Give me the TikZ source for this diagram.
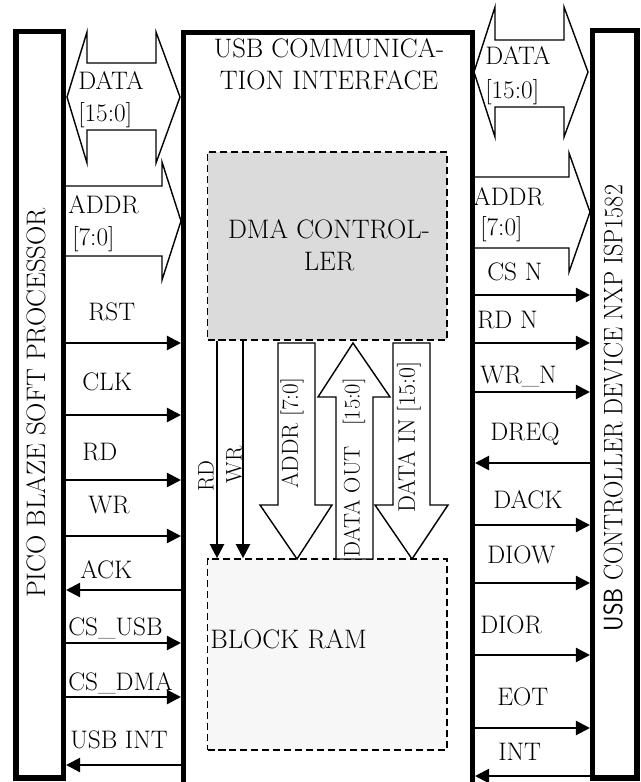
\documentclass[tikz,border=0pt]{standalone}
\usepackage{fontspec}
\usetikzlibrary{calc}
\usetikzlibrary{positioning}
\usetikzlibrary{arrows.meta}
\usetikzlibrary{fit}

\begin{document}
\begin{tikzpicture}[x=0.025cm, y=-0.025cm,
  blk/.style={draw, line width=3.6pt, inner sep=0pt},
  sub/.style={draw, dash pattern=on 5pt off 2.8pt, line width=1.2pt, inner sep=0pt},
  sig/.style={line width=1.6pt, -{Triangle[length=10pt,width=10pt]}},
  bus/.style={draw, fill=white, line width=1pt, line join=miter},
  txt/.style={font=\fontsize{19}{22}\selectfont, inner sep=0pt},
  lbl/.style={txt, font=\fontsize{18}{21}\selectfont, anchor=base west}]
  \useasboundingbox (0,0) rectangle (640,782);
  % the three units
  \node[blk, fit={(16,31.5) (63.5,778)}] (pico) {};
  \node[blk, fit={(183.5,32.5) (472.5,790)}] (usbif) {};
  \node[blk, fit={(592.5,30.5) (637,778)}] (isp) {};
  \node[txt, rotate=90] (picot) at (36,403) {PICO BLAZE SOFT PROCESSOR};
  \node[txt, rotate=90] (ispt) at (613,408)
    {\fontsize{19}{22}\selectfont\scalebox{0.9}[1]{{\sffamily USB} CONTROLLER DEVICE NXP ISP1582}};
  \node[txt, anchor=base] (usbt1) at (329,58) {USB COMMUNICA-};
  \node[txt, anchor=base] (usbt2) at (329,90) {TION INTERFACE};
  % inner blocks
  \node[sub, fill=black!14, fit={(207.5,152) (447,340)}] (dma) {};
  \node[sub, fill=black!3, fit={(207.5,559) (447,750)}] (ram) {};
  \node[txt, anchor=base] (dmat1) at (329,238) {DMA CONTROL-};
  \node[txt, anchor=base] (dmat2) at (329,270) {LER};
  \node[txt, anchor=base west] (ramt) at (210,648) {BLOCK RAM};
  % buses
  \draw[bus] (67,97) -- (87,32) -- (87,63) -- (156,63) -- (156,32) -- (180,97)
    -- (156,163) -- (156,130) -- (87,130) -- (87,163) -- cycle;
  \draw[bus] (66,186) -- (162,186) -- (162,162) -- (181,221) -- (162,280) -- (162,256) -- (66,256);
  \draw[bus] (474,72) -- (495,7) -- (495,40) -- (564,40) -- (564,7) -- (588,72)
    -- (564,137) -- (564,107) -- (495,107) -- (495,137) -- cycle;
  \draw[bus] (475,177) -- (569,177) -- (569,153) -- (590,212) -- (569,272) -- (569,248) -- (475,248);
  \node[lbl] (ld1) at (78,90) {DATA};
  \node[lbl] (ld2) at (78,121) {[15:0]};
  \node[lbl] (la1) at (68,213) {ADDR};
  \node[lbl] (la2) at (72,245) {[7:0]};
  \node[lbl] (rd1) at (485,65) {DATA};
  \node[lbl] (rd2) at (485,98) {[15:0]};
  \node[lbl] (ra1) at (473,205) {ADDR};
  \node[lbl] (ra2) at (480,235) {[7:0]};
  % between dma and ram
  \draw[bus] (278,343) -- (278,505) -- (260,505) -- (297,559) -- (332,505) -- (315,505) -- (315,343) -- cycle;
  \draw[bus] (336,559) -- (336,397) -- (318,397) -- (353,343) -- (390,397) -- (373,397) -- (373,559) -- cycle;
  \draw[bus] (393,343) -- (393,505) -- (375,505) -- (412,559) -- (448,505) -- (430,505) -- (430,343) -- cycle;
  \coordinate (rdx) at (217,0);
  \coordinate (wrx) at (243,0);
  \draw[sig] (rdx |- dma.south) -- (rdx |- ram.north);
  \draw[sig] (wrx |- dma.south) -- (wrx |- ram.north);
  \node[txt, rotate=90, font=\fontsize{16}{19}\selectfont] (rdt) at (206,476) {RD};
  \node[txt, rotate=90, font=\fontsize{16}{19}\selectfont] (wrt) at (234,465) {WR};
  \node[txt, rotate=90, font=\fontsize{16.5}{19}\selectfont] (addrt) at (292,433) {ADDR [7:0]};
  \node[txt, rotate=90, font=\fontsize{16}{19}\selectfont] (doutt) at (354,468) {DATA OUT\ \ \ [15:0]};
  \node[txt, rotate=90, font=\fontsize{17}{19}\selectfont] (dint) at (409,437) {DATA IN [15:0]};
  % processor side signals (1 = to interface)
  \foreach \y/\t/\tx/\ty/\d [count=\i] in {343/RST/88/320/1, 415/CLK/82/390/1, 480/RD/82/460/1,
      536/WR/88/513/1, 590/ACK/80/578/0, 643/CS\_USB/68/635/1, 697/CS\_DMA/68/690/1, 765/USB INT/70/748/0}{
    \coordinate (h) at (0,\y);
    \ifnum\d=1 \draw[sig] (pico.east |- h) -- (usbif.west |- h);
    \else \draw[sig] (usbif.west |- h) -- (pico.east |- h); \fi
    \node[lbl] (ls\i) at (\tx,\ty) {\t};
  }
  % device side signals (1 = to device)
  \foreach \y/\t/\tx/\ty/\d [count=\i] in {295/CS N/487/280/1, 343/RD N/477/328/1, 392/WR\_N/480/383/1,
      463/DREQ/490/440/0, 525/DACK/493/508/1, 583/DIOW/487/563/1, 655/DIOR/480/633/1,
      728/EOT/497/705/1, 776/INT/498/760/0}{
    \coordinate (h) at (0,\y);
    \ifnum\d=1 \draw[sig] (usbif.east |- h) -- (isp.west |- h);
    \else \draw[sig] (isp.west |- h) -- (usbif.east |- h); \fi
    \node[lbl] (rs\i) at (\tx,\ty) {\t};
  }
\end{tikzpicture}
\end{document}
